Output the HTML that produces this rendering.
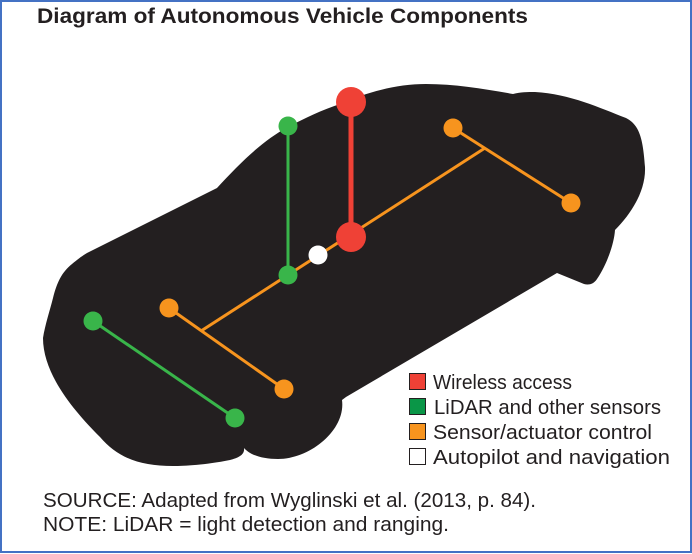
<!DOCTYPE html>
<html>
<head>
<meta charset="utf-8">
<style>
html,body{margin:0;padding:0;background:#fff;}
svg{display:block;}
text{font-family:"Liberation Sans",sans-serif;fill:#231f20;}
</style>
</head>
<body>
<svg width="692" height="554" viewBox="0 0 692 554" xmlns="http://www.w3.org/2000/svg">
<rect width="692" height="554" fill="#fff"/>
<rect x="1" y="1" width="690" height="551" fill="none" stroke="#4472c4" stroke-width="2"/>
<text x="37" y="23" font-size="21" font-weight="bold" textLength="491" lengthAdjust="spacingAndGlyphs">Diagram of Autonomous Vehicle Components</text>
<path fill="#231f20" d="M217 188 C240 163 262 141 288 127 C305 118 322 110 340 104 C365 93 395 84 426 84 C455 84 485 89 513 94 C520 92 528 92 535 92 C570 94 600 108 626 118 C640 125 643 140 645 167 C646 190 632 213 615 230 C614 245 606 266 597 279 C593 285 588 285 584 284 L557 273 L346 397 L342 400 C346 430 310 459 278 459 C262 459 250 455 244 448 C245 455 238 458 230 460 C205 465 185 466 173 466 C140 466 118 458 100 437 C75 412 43 375 43 338 C45 325 50 310 53 298 C57 282 62 272 72 264 C78 259 82 256 87 253 Z"/>
<line x1="351" y1="102" x2="351" y2="237" stroke="#ef4136" stroke-width="5"/>
<line x1="288" y1="126" x2="288" y2="275" stroke="#39b54a" stroke-width="3"/>
<line x1="485" y1="148" x2="201" y2="331" stroke="#f7941e" stroke-width="3"/>
<line x1="453" y1="128" x2="571" y2="203" stroke="#f7941e" stroke-width="3"/>
<line x1="169" y1="308" x2="284" y2="389" stroke="#f7941e" stroke-width="3"/>
<line x1="93" y1="321" x2="235" y2="418" stroke="#39b54a" stroke-width="3"/>
<circle cx="351" cy="102" r="15" fill="#ef4136"/>
<circle cx="351" cy="237" r="15" fill="#ef4136"/>
<circle cx="288" cy="126" r="9.5" fill="#39b54a"/>
<circle cx="288" cy="275" r="9.5" fill="#39b54a"/>
<circle cx="318" cy="255" r="9.5" fill="#fff"/>
<circle cx="453" cy="128" r="9.5" fill="#f7941e"/>
<circle cx="571" cy="203" r="9.5" fill="#f7941e"/>
<circle cx="169" cy="308" r="9.5" fill="#f7941e"/>
<circle cx="284" cy="389" r="9.5" fill="#f7941e"/>
<circle cx="93" cy="321" r="9.5" fill="#39b54a"/>
<circle cx="235" cy="418" r="9.5" fill="#39b54a"/>
<rect x="409.5" y="373.5" width="16" height="16" fill="#ef4136" stroke="#231f20"/>
<rect x="409.5" y="398.5" width="16" height="16" fill="#0a9647" stroke="#231f20"/>
<rect x="409.5" y="423.5" width="16" height="16" fill="#f7941e" stroke="#231f20"/>
<rect x="409.5" y="448.5" width="16" height="16" fill="#fff" stroke="#231f20"/>
<text x="433" y="389" font-size="20" textLength="139" lengthAdjust="spacingAndGlyphs">Wireless access</text>
<text x="434" y="414" font-size="20" textLength="227" lengthAdjust="spacingAndGlyphs">LiDAR and other sensors</text>
<text x="433" y="439" font-size="20" textLength="219" lengthAdjust="spacingAndGlyphs">Sensor/actuator control</text>
<text x="433" y="464" font-size="20" textLength="237" lengthAdjust="spacingAndGlyphs">Autopilot and navigation</text>
<text x="43" y="507" font-size="20" textLength="493" lengthAdjust="spacingAndGlyphs">SOURCE: Adapted from Wyglinski et al. (2013, p. 84).</text>
<text x="43" y="531" font-size="20" textLength="406" lengthAdjust="spacingAndGlyphs">NOTE: LiDAR = light detection and ranging.</text>
</svg>
</body>
</html>
